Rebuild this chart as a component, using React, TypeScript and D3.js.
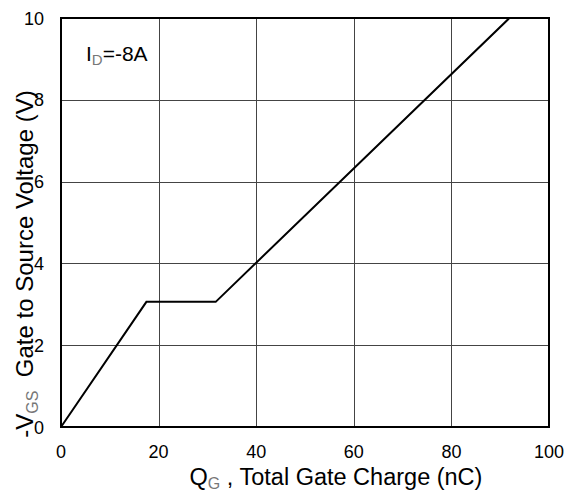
import React from "react";
import * as d3 from "d3";

const qg = [0, 17.5, 31.7, 91.9];
const vgs = [0, 3.06, 3.06, 10];
const xTicks = [0, 20, 40, 60, 80, 100];
const yTicks = [0, 2, 4, 6, 8, 10];

const W = 577;
const H = 492;
const m = { left: 61, right: 549, top: 18, bottom: 427 };
const FONT = "'Liberation Sans', Arial, sans-serif";

export default function App() {
  const x = d3.scaleLinear().domain([0, 100]).range([m.left, m.right]);
  const y = d3.scaleLinear().domain([0, 10]).range([m.bottom, m.top]);
  const line = d3
    .line<number>()
    .x((_, i) => x(qg[i]))
    .y((d) => y(d));

  return (
    <svg
      width={W}
      height={H}
      style={{ position: "absolute", left: 0, top: 0, background: "#fff" }}
      fontFamily={FONT}
    >
      <rect x={0} y={0} width={W} height={H} fill="#fff" />
      {xTicks.slice(1, -1).map((t) => (
        <line
          key={"gx" + t}
          x1={Math.round(x(t)) + 0.5}
          x2={Math.round(x(t)) + 0.5}
          y1={m.top}
          y2={m.bottom}
          stroke="#444"
          strokeWidth={1}
        />
      ))}
      {yTicks.slice(1, -1).map((t) => (
        <line
          key={"gy" + t}
          x1={m.left}
          x2={m.right}
          y1={Math.round(y(t)) + 0.5}
          y2={Math.round(y(t)) + 0.5}
          stroke="#444"
          strokeWidth={1}
        />
      ))}
      <path d={line(vgs) || ""} fill="none" stroke="#000" strokeWidth={2} />
      <rect
        x={m.left}
        y={m.top}
        width={m.right - m.left}
        height={m.bottom - m.top}
        fill="none"
        stroke="#000"
        strokeWidth={2}
      />
      {xTicks.map((t) => (
        <text key={"tx" + t} x={x(t)} y={458} fontSize={18} textAnchor="middle" fill="#000">
          {t}
        </text>
      ))}
      {yTicks.map((t) => (
        <text
          key={"ty" + t}
          x={44}
          y={y(t) + 6.5}
          fontSize={18}
          textAnchor="end"
          fill="#000"
        >
          {t}
        </text>
      ))}
      <text x={86} y={61} fontSize={21} fill="#000">
        I
        <tspan fontSize={15} dy={4} fill="#777">
          D
        </tspan>
        <tspan dy={-4}>=-8A</tspan>
      </text>
      <text x={336} y={485} fontSize={23.5} textAnchor="middle" fill="#000">
        Q
        <tspan fontSize={16} dy={4} fill="#777">
          G
        </tspan>
        <tspan dy={-4}> , Total Gate Charge (nC)</tspan>
      </text>
      <text
        transform={`translate(33,264) rotate(-90)`}
        fontSize={24}
        textAnchor="middle"
        fill="#000"
      >
        -V
        <tspan fontSize={16} dy={5} fill="#777">
          GS
        </tspan>
        <tspan dy={-5}>{"\u00a0\u00a0Gate to Source Voltage (V)"}</tspan>
      </text>
    </svg>
  );
}
